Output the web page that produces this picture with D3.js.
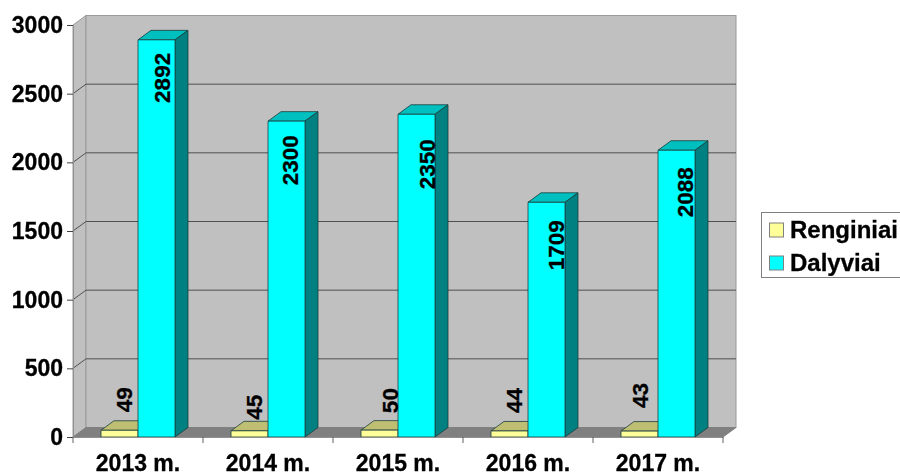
<!DOCTYPE html>
<html>
<head>
<meta charset="utf-8">
<script src="https://cdn.jsdelivr.net/npm/d3@7"></script>
<style>
  html, body { margin: 0; background: #fff; overflow: hidden; }
  svg { display: block; filter: blur(0.45px); }
  text { font-family: "Liberation Sans", Arial, sans-serif; font-weight: bold; fill: #000; stroke: #000; stroke-width: 0.3px; }
</style>
</head>
<body>
<div id="chart"></div>
<script>
// chart values
const categories = ["2013 m.", "2014 m.", "2015 m.", "2016 m.", "2017 m."];
const seriesNames = ["Renginiai", "Dalyviai"];
const renginiai = [49, 45, 50, 44, 43];
const dalyviai = [2892, 2300, 2350, 1709, 2088];
const yTicks = [0, 500, 1000, 1500, 2000, 2500, 3000];

const width = 900, height = 476;
const plot = { left: 73, right: 723, top: 25, bottom: 437 };
const depthX = 13, depthY = 9.5;

const frontColor = { Renginiai: "#ffff99", Dalyviai: "#00ffff" };
const topColor = { Renginiai: "#bfbf73", Dalyviai: "#00bfbf" };
const sideColor = { Renginiai: "#808050", Dalyviai: "#008080" };

// the value labels were dragged by hand in the original, so each has its own nudge
const labelNudge = {
    Renginiai: { x: [31, 31, 37, 31, 27], gap: [18, 11, 17, 18, 23] },
    Dalyviai: { x: [32, 30, 37, 36, 35], gap: [13, 14, 25, 18, 17] }
};

const svg = d3.select("#chart").append("svg")
    .attr("width", width)
    .attr("height", height);

const x = d3.scaleBand().domain(categories).range([plot.left, plot.right]);
const xInner = d3.scaleBand().domain(seriesNames).range([28, 102]);
const y = d3.scaleLinear().domain([0, 3000]).range([plot.bottom, plot.top]);

const poly = pts => pts.map(p => p.join(",")).join(" ");

// side wall, back wall and floor
svg.append("polygon")
    .attr("points", poly([[plot.left, y(3000)], [plot.left + depthX, y(3000) - depthY],
        [plot.left + depthX, y(0) - depthY], [plot.left, y(0)]]))
    .attr("fill", "#c0c0c0").attr("stroke", "#9a9a9a");
svg.append("rect")
    .attr("x", plot.left + depthX).attr("y", y(3000) - depthY)
    .attr("width", plot.right - plot.left).attr("height", y(0) - y(3000))
    .attr("fill", "#c0c0c0").attr("stroke", "#9a9a9a");
svg.append("polygon")
    .attr("points", poly([[plot.left, y(0)], [plot.left + depthX, y(0) - depthY],
        [plot.right + depthX, y(0) - depthY], [plot.right, y(0)]]))
    .attr("fill", "#808080").attr("stroke", "#808080");

// gridlines
svg.append("g").selectAll("polyline")
    .data(yTicks.filter(d => d > 0 && d < 3000))
    .join("polyline")
    .attr("points", d => poly([[plot.left, y(d)], [plot.left + depthX, y(d) - depthY],
        [plot.right + depthX, y(d) - depthY]]))
    .attr("fill", "none")
    .attr("stroke", "#505050");

// bars
const bars = [];
categories.forEach((c, i) => {
    bars.push({ cat: c, name: "Renginiai", value: renginiai[i], i: i });
    bars.push({ cat: c, name: "Dalyviai", value: dalyviai[i], i: i });
});
const barX = d => x(d.cat) + xInner(d.name);
const barG = svg.append("g").selectAll("g")
    .data(bars)
    .join("g")
    .attr("stroke", "#1c3c3c")
    .attr("stroke-width", 0.8)
    .attr("stroke-linejoin", "round");
barG.append("polygon")
    .attr("points", d => {
        const x0 = barX(d), x1 = x0 + xInner.bandwidth(), t = y(d.value);
        return poly([[x0, t], [x0 + depthX, t - depthY], [x1 + depthX, t - depthY], [x1, t]]);
    })
    .attr("fill", d => topColor[d.name]);
barG.append("polygon")
    .attr("points", d => {
        const x1 = barX(d) + xInner.bandwidth(), t = y(d.value);
        return poly([[x1, t], [x1 + depthX, t - depthY], [x1 + depthX, y(0) - depthY], [x1, y(0)]]);
    })
    .attr("fill", d => sideColor[d.name]);
barG.append("rect")
    .attr("x", barX)
    .attr("y", d => y(d.value))
    .attr("width", xInner.bandwidth())
    .attr("height", d => y(0) - y(d.value))
    .attr("fill", d => frontColor[d.name]);

// value labels, turned on their side
svg.append("g").selectAll("text")
    .data(bars)
    .join("text")
    .attr("transform", d => {
        const n = labelNudge[d.name];
        const ty = d.name === "Renginiai" ? y(d.value) - n.gap[d.i] : y(d.value) + n.gap[d.i];
        return `translate(${barX(d) + n.x[d.i]},${ty}) rotate(-90)`;
    })
    .attr("text-anchor", d => d.name === "Renginiai" ? "start" : "end")
    .attr("font-size", 22.5)
    .text(d => d.value);

// axes
const yAxis = svg.append("g")
    .attr("transform", `translate(${plot.left},0)`)
    .call(d3.axisLeft(y).tickValues(yTicks).tickSize(6).tickPadding(4).tickFormat(d3.format("d")));
yAxis.selectAll("text").attr("font-size", 23);
yAxis.selectAll("line, path").attr("stroke", "#404040");
yAxis.select(".domain").attr("stroke", "#909090");
yAxis.attr("font-family", null);

const xAxis = svg.append("g")
    .attr("transform", `translate(0,${plot.bottom})`)
    .call(d3.axisBottom(x).tickSize(0).tickPadding(17.5));
xAxis.selectAll("text").attr("font-size", 23);
xAxis.select(".domain").attr("stroke", "#909090");
xAxis.attr("font-family", null);
xAxis.selectAll(".sep")
    .data(categories.map(c => x(c)).concat([plot.right]))
    .join("line")
    .attr("class", "sep")
    .attr("x1", d => d).attr("x2", d => d)
    .attr("y1", 0).attr("y2", 6)
    .attr("stroke", "#606060");

// legend
const legend = svg.append("g");
legend.append("rect")
    .attr("x", 761.5).attr("y", 212.5)
    .attr("width", 150).attr("height", 65)
    .attr("fill", "#fff").attr("stroke", "#808080");
const legendY = d3.scalePoint().domain(seriesNames).range([230, 263]);
const item = legend.selectAll("g.item")
    .data(seriesNames)
    .join("g")
    .attr("class", "item")
    .attr("transform", d => `translate(769,${legendY(d)})`);
item.append("rect")
    .attr("x", 0.5).attr("y", -7)
    .attr("width", 14).attr("height", 14)
    .attr("fill", d => frontColor[d])
    .attr("stroke", "#808080");
item.append("text")
    .attr("x", 21).attr("y", 7.5)
    .attr("font-size", 24)
    .text(d => d);
</script>
</body>
</html>
